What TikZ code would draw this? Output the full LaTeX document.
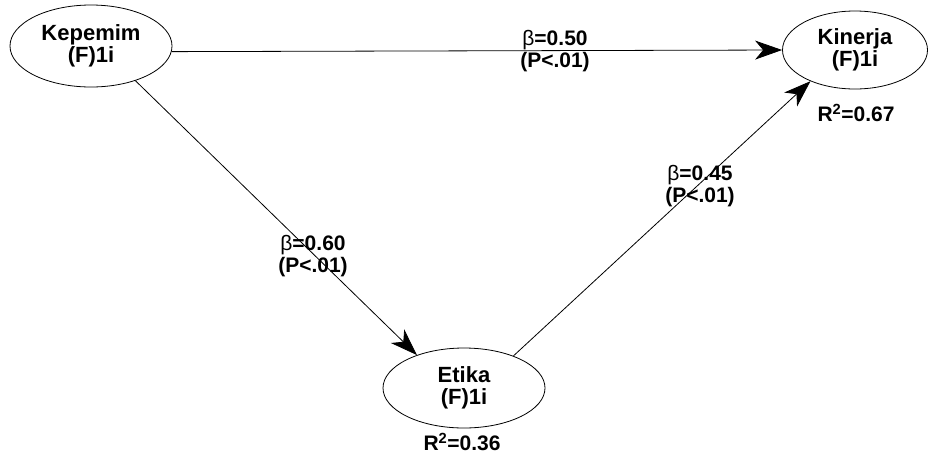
\documentclass[tikz,border=0pt]{standalone}
\usepackage{fontspec}
\setmainfont{Liberation Sans}
\usetikzlibrary{shapes.geometric,arrows.meta}
\tikzset{
  latent/.style={ellipse,draw,line width=0.8pt,inner sep=0pt,align=center,
    font=\fontsize{22}{22}\selectfont\bfseries},
  path/.style={line width=0.8pt,-{Stealth[length=27pt,width=19pt,inset=8pt]}},
  coef/.style={align=center,font=\fontsize{21}{22}\selectfont\bfseries},
}
\newcommand{\bet}{{\mdseries β}}
\begin{document}
\begin{tikzpicture}[x=1pt,y=-1pt]
  \useasboundingbox (0,0) rectangle (931,456);
  % latent constructs
  \node[latent,minimum width=162pt,minimum height=82pt] (kep) at (91,46) {Kepemim\\(F)1i};
  \node[latent,minimum width=145pt,minimum height=78pt] (kin) at (855,50) {Kinerja\\(F)1i};
  \node[latent,minimum width=162pt,minimum height=80pt] (eti) at (464,388) {Etika\\(F)1i};
  % explained variance
  \node[coef] (r2kin) at (856,113) {R\textsuperscript{2}=0.67};
  \node[coef] (r2eti) at (462,442) {R\textsuperscript{2}=0.36};
  % structural paths
  \draw[path] (kep.-4) -- (kin.180);
  \draw[path] (kep.-38) -- (eti.145);
  \draw[path] (eti.33) -- (kin.-145);
  % path coefficients
  \node[coef] (b1) at (555,51) {\bet=0.50\\(P<.01)};
  \node[coef] (b2) at (313,256) {\bet=0.60\\(P<.01)};
  \node[coef] (b3) at (700,186) {\bet=0.45\\(P<.01)};
\end{tikzpicture}
\end{document}
